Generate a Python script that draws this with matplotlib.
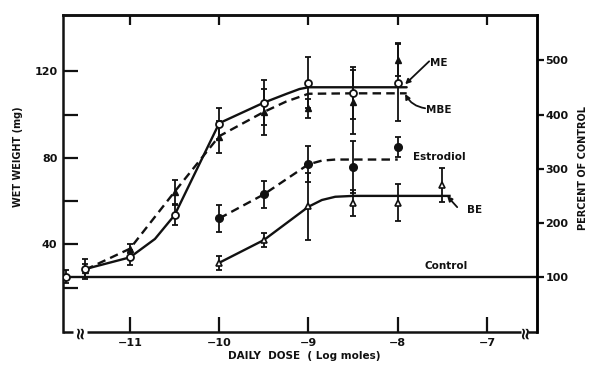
import matplotlib
matplotlib.use("Agg")
import matplotlib.pyplot as plt

# ---------------- data ----------------
ctrl_x = [-11.72]
ctrl_y = [25.0]
ctrl_err = [3.0]
control_level = 25.0

me_x = [-11.5, -11.0, -10.5, -10.0, -9.5, -9.0, -8.5, -8.0]
me_y = [28.6, 34.0, 53.5, 95.8, 105.5, 114.8, 109.8, 114.8]
me_err = [4.5, 3.5, 4.5, 7.0, 10.5, 12.0, 12.0, 17.8]

mbe_x = [-11.5, -11.0, -10.5, -10.0, -9.5, -9.0, -8.5, -8.0]
mbe_y = [28.0, 38.0, 64.3, 89.7, 101.2, 102.8, 105.8, 125.4]
mbe_err = [3.0, 2.0, 5.5, 7.5, 10.8, 4.3, 14.8, 7.6]

est_x = [-10.0, -9.5, -9.0, -8.5, -8.0]
est_y = [52.0, 63.1, 77.2, 75.8, 85.0]
est_err = [6.3, 6.3, 8.2, 12.0, 4.6]

be_x = [-10.0, -9.5, -9.0, -8.5, -8.0, -7.5]
be_y = [31.5, 42.0, 57.6, 58.9, 59.2, 67.4]
be_err = [3.2, 3.3, 15.5, 6.0, 8.6, 8.0]

# hand-drawn fitted curves
me_cx = [-11.5, -11.0, -10.72, -10.5, -10.0, -9.5, -9.25, -9.1, -9.0, -8.5, -8.0, -7.9]
me_cy = [28.6, 34.0, 42.5, 53.5, 96.0, 105.5, 109.5, 111.8, 112.6, 112.6, 112.6, 112.6]
mbe_cx = [-11.5, -11.0, -10.5, -10.0, -9.5, -9.25, -9.0, -8.5, -8.0, -7.9]
mbe_cy = [28.3, 38.0, 64.3, 90.0, 101.2, 106.0, 109.6, 109.8, 109.8, 109.8]
est_cx = [-10.0, -9.5, -9.0, -8.85, -8.7, -8.0]
est_cy = [52.0, 63.1, 77.0, 78.7, 79.2, 79.2]
be_cx = [-10.0, -9.5, -9.0, -8.85, -8.7, -8.5, -8.0, -7.42]
be_cy = [31.5, 42.0, 57.4, 60.5, 62.0, 62.4, 62.4, 62.4]

x_ticks = [-11, -10, -9, -8, -7]
y_major = [40, 80, 120]
y_minor = [20, 60, 100]
pct_ticks = [100, 200, 300, 400, 500]

# ---------------- figure ----------------
K = "#111111"
plt.rcParams['font.family'] = ['DejaVu Sans']
plt.rcParams['font.weight'] = 'bold'

fig = plt.figure(figsize=(5.91, 3.70), dpi=100)
ax = fig.add_axes([63/591, 1-332/370, (537-63)/591, (332-15)/370])

xlim = (-11.75, -6.44)
ylim = (-0.5, 146.0)
ax.set_xlim(*xlim)
ax.set_ylim(*ylim)

lw = 1.7
# control line
ax.axhline(control_level, color=K, lw=lw, zorder=2)

# curves
ax.plot(me_cx, me_cy, color=K, lw=lw, solid_capstyle='round', zorder=2)
ax.plot(mbe_cx, mbe_cy, color=K, lw=lw, ls=(0, (3.6, 2.2)), zorder=2)
ax.plot(est_cx, est_cy, color=K, lw=lw, ls=(0, (3.6, 2.2)), zorder=2)
ax.plot(be_cx, be_cy, color=K, lw=lw, zorder=2)

eb = dict(fmt='none', ecolor=K, elinewidth=1.3, capsize=2.3, capthick=1.3, zorder=3)
for xs, ys, es in [(ctrl_x, ctrl_y, ctrl_err), (me_x, me_y, me_err), (mbe_x, mbe_y, mbe_err),
                   (est_x, est_y, est_err), (be_x, be_y, be_err)]:
    ax.errorbar(xs, ys, yerr=es, **eb)

ax.plot(mbe_x, mbe_y, ls='none', marker='^', ms=4.5, mfc=K, mec=K, zorder=4)
ax.plot(est_x, est_y, ls='none', marker='o', ms=5.5, mfc=K, mec=K, zorder=4)
ax.plot(be_x, be_y, ls='none', marker='^', ms=4.5, mfc='white', mec=K, mew=1.2, zorder=4)
ax.plot(me_x, me_y, ls='none', marker='o', ms=5, mfc='white', mec=K, mew=1.3, zorder=5)
ax.plot(ctrl_x, ctrl_y, ls='none', marker='o', ms=5, mfc='white', mec=K, mew=1.3, zorder=5)

# labels on the curves
tfs = 7.5
ax.text(-7.536, 123.6, "ME", fontsize=tfs, fontweight='bold', ha='center', va='center', color=K)
ax.text(-7.536, 102.0, "MBE", fontsize=tfs, fontweight='bold', ha='center', va='center', color=K)
ax.text(-7.827, 80.3, "Estrodiol", fontsize=tfs, fontweight='bold', ha='left', va='center', color=K)
ax.text(-7.143, 55.8, "BE", fontsize=tfs, fontweight='bold', ha='center', va='center', color=K)
ax.text(-7.457, 29.8, "Control", fontsize=tfs, fontweight='bold', ha='center', va='center', color=K)

ap = dict(arrowstyle='-|>', color=K, lw=1.3, shrinkA=0, shrinkB=0, mutation_scale=7)
ax.annotate('', xy=(-7.917, 114.0), xytext=(-7.648, 124.6), arrowprops=ap)
ax.annotate('', xy=(-7.917, 109.5), xytext=(-7.693, 102.9),
            arrowprops=dict(ap, connectionstyle='arc3,rad=-0.25'))
ax.annotate('', xy=(-7.446, 62.3), xytext=(-7.334, 57.2), arrowprops=ap)

# ---------------- axes styling ----------------
for s in ['left', 'top', 'right']:
    ax.spines[s].set_linewidth(1.8)
    ax.spines[s].set_color(K)
ax.spines['bottom'].set_visible(False)
# bottom spine with breaks
bl = dict(color=K, lw=1.8, transform=ax.transAxes, clip_on=False, solid_capstyle='butt', zorder=6)
ax.plot([0, 0.021], [0, 0], **bl)
ax.plot([0.051, 0.966], [0, 0], **bl)
ax.plot([0.982, 1.0], [0, 0], **bl)
for xb in [0.036, 0.974]:
    ax.text(xb, 0.0, "\u2248", rotation=90, transform=ax.transAxes, ha='center', va='center',
            fontsize=12, fontweight='bold', color=K, clip_on=False)

ax.set_xticks(x_ticks)
ax.set_xticklabels([f"\u2212{abs(t)}" for t in x_ticks])
ax.tick_params(axis='x', which='major', direction='in', length=11, width=1.6, color=K,
               labelsize=8, pad=4, labelcolor=K)
ax.set_yticks(y_major)
ax.set_yticks(y_minor, minor=True)
ax.tick_params(axis='y', which='both', direction='in', length=11, width=1.6, color=K,
               labelsize=8, pad=4, labelcolor=K)

sec = ax.secondary_xaxis('top')
sec.set_xticks(x_ticks)
sec.tick_params(direction='in', length=7.5, width=1.6, color=K, labeltop=False)
sec.spines['top'].set_linewidth(1.8)

ax2 = ax.twinx()
ax2.set_ylim(ylim[0] * 100 / control_level, ylim[1] * 100 / control_level)
ax2.set_yticks(pct_ticks)
ax2.tick_params(axis='y', direction='out', length=5, width=1.6, color=K, labelsize=8, pad=1,
                labelcolor=K)
for s in ['left', 'top', 'bottom']:
    ax2.spines[s].set_visible(False)
ax2.spines['right'].set_linewidth(1.8)

for lab in ax.get_xticklabels() + ax.get_yticklabels() + ax2.get_yticklabels():
    lab.set_fontweight('bold')

fig.text(18/591, 1-157/370, "WET WEIGHT (mg)", rotation=90, ha='center', va='center',
         fontsize=7, fontweight='bold', color=K)
fig.text(578/591, 1-168/370, "PERCENT OF CONTROL", rotation=90, ha='left', va='center',
         fontsize=7, fontweight='bold', color=K)
fig.text(304/591, 1-356/370, "DAILY  DOSE  ( Log moles)", ha='center', va='center',
         fontsize=7.5, fontweight='bold', color=K)

fig.savefig("out.png", dpi=100)
